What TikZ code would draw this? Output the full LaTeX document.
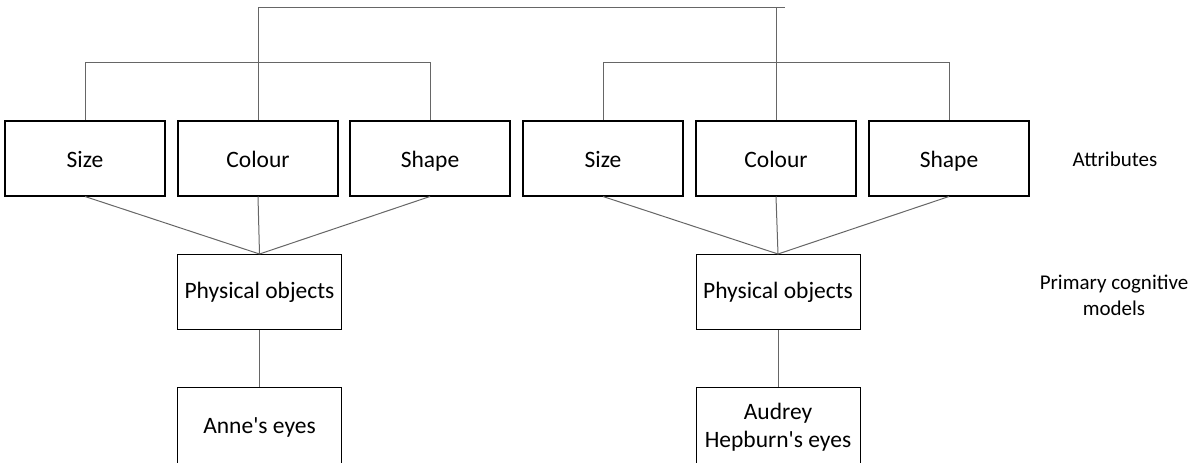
\documentclass[tikz,border=0pt]{standalone}
\usepackage{fontspec}
\setmainfont{Carlito}[Ligatures=TeXOff]
\usepackage{tikz}
\usetikzlibrary{calc, positioning}

\tikzset{
    attr/.style={draw, line width=2pt, minimum width=160pt, minimum height=75pt, inner sep=0pt,
        text height=23pt, text depth=5pt},
    model/.style={draw, line width=1pt, minimum width=164pt, minimum height=75pt, inner sep=0pt, align=center},
    link/.style={draw=black!60, line width=1pt},
    sidelabel/.style={align=center, font=\fontsize{21}{26}\selectfont},
}

\begin{document}
\begin{tikzpicture}[x=1pt, y=-1pt, font=\fontsize{23.5}{28}\selectfont]
    \useasboundingbox (0,0) rectangle (1191,463);
    \clip (0,0) rectangle (1191,463);

    % 属性
    \foreach \x/\n/\t in {85/sa/Size, 258/ca/Colour, 430/pa/Shape, 603/sb/Size, 776/cb/Colour, 949/pb/Shape} {
        \node[attr] (\n) at (\x,158) {\t};
    }
    \node[sidelabel] (attrlabel) at (1115,159) {Attributes};

    % 物理对象
    \node[model] (objA) at (259.5,292) {Physical objects};
    \node[model] (objB) at (778,292) {Physical objects};
    \node[sidelabel] (modlabel) at (1114,295) {Primary cognitive\\models};

    % 眼睛
    \node[model, minimum height=79pt] (eyeA) at (259.5,427) {Anne's eyes};
    \node[model, minimum height=79pt] (eyeB) at (778,427) {Audrey\\Hepburn's eyes};

    % 上方连线
    \coordinate (barA) at (0,62);
    \coordinate (barB) at (0,62);
    \coordinate (top) at (785,7);
    \draw[link] (sa.north) -- (sa.north |- barA) -| (pa.north);
    \draw[link] (sb.north) -- (sb.north |- barB) -| (pb.north);
    \draw[link] (ca.north) |- (top);
    \draw[link] (cb.north) -- (cb.north |- top);

    % 下方连线
    \foreach \n in {sa, ca, pa} {
        \draw[link] (\n.south) -- (objA.north);
    }
    \foreach \n in {sb, cb, pb} {
        \draw[link] (\n.south) -- (objB.north);
    }
    \draw[link] (objA) -- (eyeA);
    \draw[link] (objB) -- (eyeB);
\end{tikzpicture}
\end{document}
